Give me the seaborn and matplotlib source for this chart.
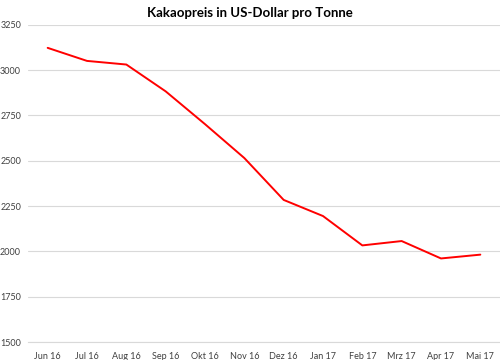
import numpy as np
import pandas as pd
import matplotlib
matplotlib.use("Agg")
import matplotlib.pyplot as plt
import seaborn as sns

# Kakaopreis (US-Dollar pro Tonne), monatlich
monate = ["Jun 16", "Jul 16", "Aug 16", "Sep 16", "Okt 16", "Nov 16",
          "Dez 16", "Jan 17", "Feb 17", "Mrz 17", "Apr 17", "Mai 17"]
preis = [3123, 3051, 3031, 2883, 2702, 2515, 2284, 2195, 2033, 2057, 1961, 1982]
y_ticks = [1500, 1750, 2000, 2250, 2500, 2750, 3000, 3250]

df = pd.DataFrame({"Monat": monate, "Preis": preis})

sns.set_style("white")
plt.rcParams["font.family"] = ["Lato", "DejaVu Sans"]

fig = plt.figure(figsize=(5, 3.6), dpi=100)
ax = fig.add_axes([0.056, 0.05, 0.944, 0.881])

sns.lineplot(data=df, x="Monat", y="Preis", color="#ff0000", linewidth=1.4,
             sort=False, ax=ax)

ax.set_xlim(-0.5, len(monate) - 0.5)
ax.set_ylim(y_ticks[0], y_ticks[-1])
ax.set_yticks(y_ticks)
ax.set_xticks(range(len(monate)))
ax.set_xticklabels(monate)
ax.set_xticks(np.arange(-0.5, len(monate), 1), minor=True)

ax.grid(axis="y", color="#d9d9d9", linewidth=0.8)
ax.set_axisbelow(True)
for s in ["top", "right", "left"]:
    ax.spines[s].set_visible(False)
ax.spines["bottom"].set_color("#d9d9d9")
ax.spines["bottom"].set_linewidth(0.8)

ax.tick_params(axis="x", which="major", length=0, labelsize=6.5,
               labelcolor="#404040", pad=7)
ax.tick_params(axis="x", which="minor", length=3.5, color="#d9d9d9", width=0.8)
ax.tick_params(axis="y", length=0, labelsize=6.5, labelcolor="#404040", pad=5)

ax.set_xlabel("")
ax.set_ylabel("")
fig.text(0.5, 0.965, "Kakaopreis in US-Dollar pro Tonne", ha="center",
         va="center", fontsize=9.5, fontweight="bold", color="#000000")

fig.savefig("out.png", dpi=100)
